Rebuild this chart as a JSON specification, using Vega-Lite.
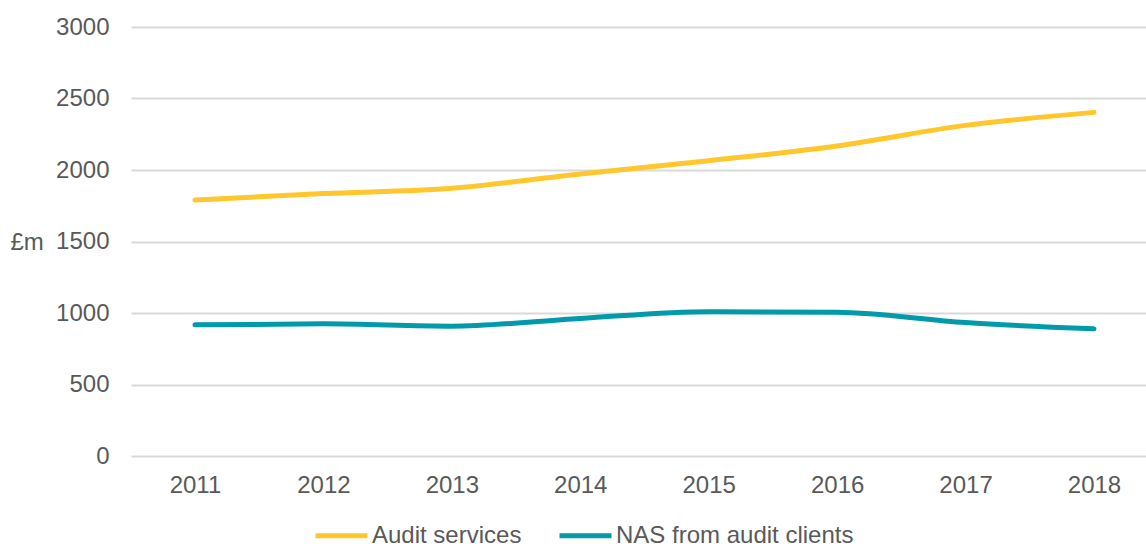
{
  "$schema": "https://vega.github.io/schema/vega-lite/v6.json",
  "autosize": "none",
  "width": 1015,
  "height": 429,
  "padding": {"left": 131, "top": 27, "right": 0, "bottom": 88},
  "background": "white",
  "config": {
    "view": {"stroke": null},
    "font": "Liberation Sans"
  },
  "data": {
    "values": [
      {"year": 2011, "series": "Audit services", "value": 1790},
      {"year": 2012, "series": "Audit services", "value": 1835},
      {"year": 2013, "series": "Audit services", "value": 1872},
      {"year": 2014, "series": "Audit services", "value": 1972},
      {"year": 2015, "series": "Audit services", "value": 2065},
      {"year": 2016, "series": "Audit services", "value": 2168},
      {"year": 2017, "series": "Audit services", "value": 2312},
      {"year": 2018, "series": "Audit services", "value": 2403},
      {"year": 2011, "series": "NAS from audit clients", "value": 917},
      {"year": 2012, "series": "NAS from audit clients", "value": 924},
      {"year": 2013, "series": "NAS from audit clients", "value": 908},
      {"year": 2014, "series": "NAS from audit clients", "value": 962},
      {"year": 2015, "series": "NAS from audit clients", "value": 1009},
      {"year": 2016, "series": "NAS from audit clients", "value": 1005},
      {"year": 2017, "series": "NAS from audit clients", "value": 933},
      {"year": 2018, "series": "NAS from audit clients", "value": 889}
    ]
  },
  "mark": {"type": "line", "strokeWidth": 5, "strokeCap": "round", "interpolate": "monotone"},
  "encoding": {
    "x": {
      "field": "year",
      "type": "quantitative",
      "scale": {"domain": [2010.502, 2018.405], "nice": false, "zero": false},
      "axis": {
        "title": null,
        "values": [2011, 2012, 2013, 2014, 2015, 2016, 2017, 2018],
        "format": "d",
        "labelAngle": 0,
        "labelFontSize": 24,
        "labelColor": "#595959",
        "labelPadding": 17,
        "labelFlush": false,
        "labelOverlap": false,
        "ticks": false,
        "domain": false,
        "grid": false
      }
    },
    "y": {
      "field": "value",
      "type": "quantitative",
      "scale": {"domain": [0, 3000], "nice": false},
      "axis": {
        "values": [0, 500, 1000, 1500, 2000, 2500, 3000],
        "format": "d",
        "title": "£m",
        "titleAngle": 0,
        "titleFontSize": 24,
        "titleFontWeight": "normal",
        "titleColor": "#595959",
        "titleX": -121,
        "titleY": 215,
        "titleAlign": "left",
        "titleBaseline": "middle",
        "labelFontSize": 24,
        "labelColor": "#595959",
        "labelPadding": 22,
        "ticks": false,
        "domain": false,
        "grid": true,
        "gridColor": "#D9D9D9",
        "gridWidth": 2
      }
    },
    "color": {
      "field": "series",
      "type": "nominal",
      "scale": {"domain": ["Audit services", "NAS from audit clients"], "range": ["#FFC72C", "#009AAB"]},
      "legend": {
        "title": null,
        "orient": "none",
        "direction": "horizontal",
        "legendX": 182,
        "legendY": 480,
        "symbolType": "stroke",
        "symbolSize": 2700,
        "symbolStrokeWidth": 5,
        "labelFontSize": 24,
        "labelColor": "#595959",
        "labelOffset": 2,
        "labelLimit": 500,
        "columnPadding": 27
      }
    }
  }
}
